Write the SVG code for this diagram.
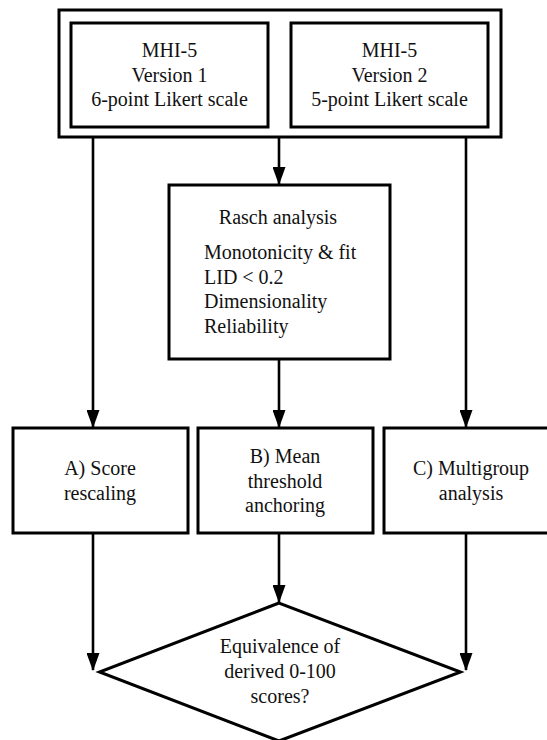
<svg xmlns="http://www.w3.org/2000/svg" width="547" height="740" viewBox="0 0 547 740">
<style>
.box{fill:#fff;stroke:#000;stroke-width:3}
.c{fill:none;stroke:#000;stroke-width:2.6}
.t{font-family:'Liberation Serif','Times New Roman',serif;font-size:20px;fill:#111;text-anchor:middle}
.tl{text-anchor:start}
</style>
<defs>
<marker id="ah" markerUnits="userSpaceOnUse" markerWidth="18" markerHeight="13" refX="17" refY="6.5" orient="auto" viewBox="0 0 18 13">
<path d="M0,0 L18,6.5 L0,13 Z" fill="#000"/>
</marker>
</defs>
<rect width="547" height="740" fill="#fff"/>
<g id="versions">
<rect class="box" x="59" y="10" width="442" height="127"/>
</g>
<g id="v1">
<rect class="box" x="71" y="23" width="197" height="104"/>
<text class="t" x="169.5" y="57">MHI-5</text>
<text class="t" x="169.5" y="82">Version 1</text>
<text class="t" x="169.5" y="106">6-point Likert scale</text>
</g>
<g id="v2">
<rect class="box" x="291" y="23" width="197" height="104"/>
<text class="t" x="389.5" y="57">MHI-5</text>
<text class="t" x="389.5" y="82">Version 2</text>
<text class="t" x="389.5" y="106">5-point Likert scale</text>
</g>
<g id="rasch">
<rect class="box" x="169" y="185" width="221" height="174"/>
<text class="t" x="278" y="224">Rasch analysis</text>
<text class="t tl" x="204" y="259">Monotonicity &amp; fit</text>
<text class="t tl" x="204" y="284">LID &lt; 0.2</text>
<text class="t tl" x="204" y="308">Dimensionality</text>
<text class="t tl" x="204" y="333">Reliability</text>
</g>
<g id="a">
<rect class="box" x="13" y="428" width="175" height="105"/>
<text class="t" x="100" y="475">A) Score</text>
<text class="t" x="100" y="500">rescaling</text>
</g>
<g id="b">
<rect class="box" x="198" y="428" width="175" height="105"/>
<text class="t" x="285" y="463">B) Mean</text>
<text class="t" x="285" y="488">threshold</text>
<text class="t" x="285" y="512">anchoring</text>
</g>
<g id="c">
<rect class="box" x="384" y="428" width="175" height="105"/>
<text class="t" x="471" y="475">C) Multigroup</text>
<text class="t" x="471" y="500">analysis</text>
</g>
<g id="equiv">
<polygon class="box" points="279,603 99.5,672 279,741 460.5,672"/>
<text class="t" x="280" y="653">Equivalence of</text>
<text class="t" x="280" y="678">derived 0-100</text>
<text class="t" x="280" y="703">scores?</text>
</g>
<g id="connectors">
<line class="c" x1="93" y1="137" x2="93" y2="427" marker-end="url(#ah)"/>
<line class="c" x1="279" y1="137" x2="279" y2="184" marker-end="url(#ah)"/>
<line class="c" x1="466" y1="137" x2="466" y2="427" marker-end="url(#ah)"/>
<line class="c" x1="279" y1="359" x2="279" y2="427" marker-end="url(#ah)"/>
<line class="c" x1="93" y1="533" x2="93" y2="670" marker-end="url(#ah)"/>
<line class="c" x1="279" y1="533" x2="279" y2="602" marker-end="url(#ah)"/>
<line class="c" x1="466" y1="533" x2="466" y2="670" marker-end="url(#ah)"/>
</g>
</svg>
